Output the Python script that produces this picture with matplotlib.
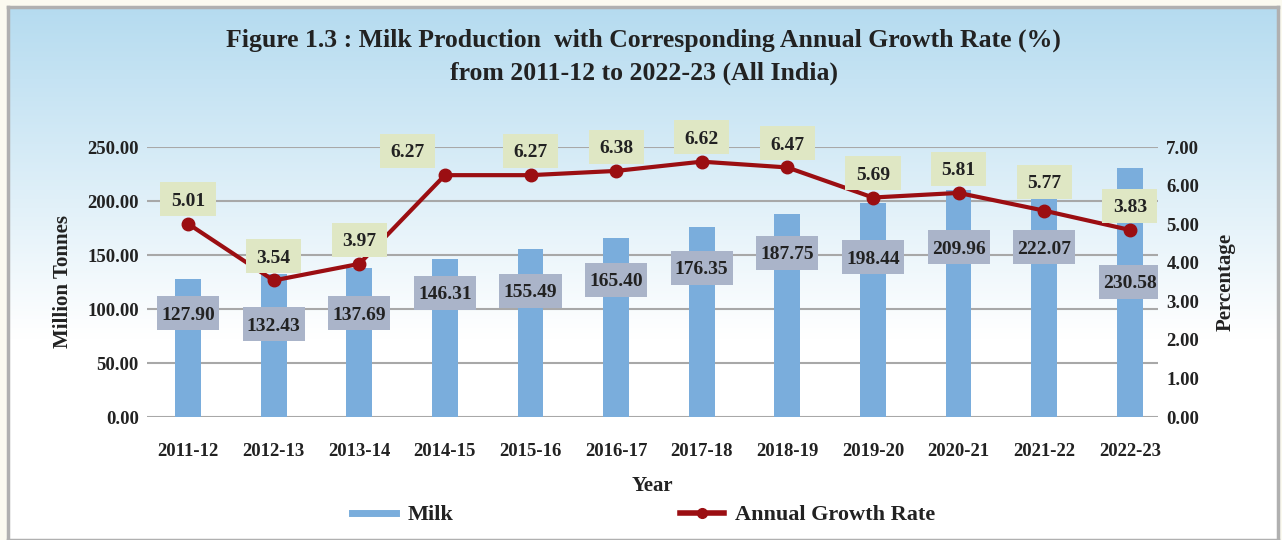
import numpy as np
import matplotlib
matplotlib.use("Agg")
from matplotlib import pyplot as plt
from matplotlib.patches import Rectangle
from matplotlib.lines import Line2D

plt.rcParams["font.family"] = "Liberation Serif"
plt.rcParams["font.weight"] = "bold"
plt.rcParams["axes.labelweight"] = "bold"

years = ['2011-12', '2012-13', '2013-14', '2014-15', '2015-16', '2016-17',
         '2017-18', '2018-19', '2019-20', '2020-21', '2021-22', '2022-23']
milk = [127.90, 132.43, 137.69, 146.31, 155.49, 165.40,
        176.35, 187.75, 198.44, 209.96, 222.07, 230.58]
growth = [5.01, 3.54, 3.97, 6.27, 6.27, 6.38,
          6.62, 6.47, 5.69, 5.81, 5.77, 3.83]
# where the line points actually sit in the picture (last two are off their labels)
growth_drawn = [5.01, 3.54, 3.97, 6.27, 6.27, 6.38,
                6.62, 6.47, 5.69, 5.81, 5.35, 4.85]

# label placement (layout only)
milk_label_y = [96, 86, 96, 115, 117, 127, 138, 152, 148, 157, 157, 125]

bar_col = '#7aaddc'
line_col = '#9b0e12'
txt_col = '#222222'

fig = plt.figure(figsize=(12.82, 5.40), dpi=100, facecolor='#fbfaf0')

# background frame with blue -> white gradient
bg = fig.add_axes([8 / 1282, 0, 1270 / 1282, 533 / 540])
grad = np.linspace(0, 1, 256).reshape(-1, 1)
top = np.array([0.71, 0.86, 0.94])
t = np.clip(grad / 0.62, 0, 1)
img = top * (1 - t[..., None]) + np.ones(3) * t[..., None]
img = img.reshape(256, 1, 3)
bg.imshow(img, aspect='auto', extent=[0, 1, 0, 1], origin='upper')
bg.set_xlim(0, 1)
bg.set_ylim(0, 1)
bg.set_xticks([])
bg.set_yticks([])
for s in bg.spines.values():
    s.set_color('#b0b0b0')
    s.set_linewidth(2.5)

ax = fig.add_axes([147 / 1282, 1 - 417 / 540, 1011 / 1282, 270 / 540])
ax.patch.set_alpha(0)
x = np.arange(len(years))

ax.bar(x, milk, width=0.3, color=bar_col, zorder=2)
ax.set_ylim(0, 250)
ax.set_xlim(-0.48, 11.33)
ax.set_yticks(np.arange(0, 251, 50))
ax.set_yticklabels(['%.2f' % v for v in np.arange(0, 251, 50)])
ax.yaxis.grid(True, color='#a8a8a8', linewidth=1.5, zorder=0)
ax.set_axisbelow(True)
for s in ax.spines.values():
    s.set_visible(False)
ax.tick_params(axis='both', length=0, labelsize=13.5, labelcolor=txt_col)
ax.tick_params(axis='y', pad=6)
ax.tick_params(axis='x', pad=19)
ax.set_xticks(x)
ax.set_xticklabels(years)
ax.set_ylabel('Million Tonnes', fontsize=15, color=txt_col, labelpad=10)
ax.set_xlabel('Year', fontsize=15, color=txt_col, labelpad=11)

ax2 = ax.twinx()
ax2.set_ylim(0, 7)
ax2.set_yticks(np.arange(0, 7.01, 1))
ax2.set_yticklabels(['%.2f' % v for v in np.arange(0, 7.01, 1)])
for s in ax2.spines.values():
    s.set_visible(False)
ax2.tick_params(axis='y', length=0, labelsize=13.5, labelcolor=txt_col, pad=6)
ax2.set_ylabel('Percentage', fontsize=15, color=txt_col, labelpad=12)
ax2.plot(x, growth_drawn, color=line_col, linewidth=3, marker='o', markersize=9, zorder=4)

# milk labels inside bars (grey boxes)
bw, bh = 0.725, 31.5
for i, v in enumerate(milk):
    ypos = milk_label_y[i]
    ax.add_patch(Rectangle((i - bw / 2, ypos - bh / 2), bw, bh,
                           fc='#aab4c9', ec='none', zorder=5))
    ax.text(i, ypos, '%.2f' % v, ha='center', va='center_baseline', fontsize=14,
            color=txt_col, zorder=6)

# growth labels above points (green boxes)
gw, gh = 0.645, 0.88
for i, v in enumerate(growth):
    dx = -0.44 if i == 3 else 0
    yy = growth_drawn[i] + (0.75 if i == 10 else 0.63)
    ax2.add_patch(Rectangle((i + dx - gw / 2, yy - gh / 2), gw, gh,
                            fc='#dfe7c4', ec='none', zorder=5, clip_on=False))
    ax2.text(i + dx, yy, '%.2f' % v, ha='center', va='center_baseline', fontsize=14,
             color=txt_col, zorder=6, clip_on=False)

fig.text(0.502, 0.925, 'Figure 1.3 : Milk Production  with Corresponding Annual Growth Rate (%)',
         ha='center', va='center', fontsize=18.5, color=txt_col)
fig.text(0.502, 0.864, 'from 2011-12 to 2022-23 (All India)',
         ha='center', va='center', fontsize=18.5, color=txt_col)

handles = [Line2D([0], [0], color=bar_col, linewidth=5),
           Line2D([0], [0], color=line_col, linewidth=4, marker='o', markersize=7)]
fig.legend(handles, ['Milk', 'Annual Growth Rate'], loc='center',
           bbox_to_anchor=(0.502, 0.046), ncol=2, frameon=False,
           fontsize=16, handlelength=2.0, columnspacing=10.2, handletextpad=0.5,
           labelcolor=txt_col)

fig.savefig('out.png', dpi=100, facecolor=fig.get_facecolor())
